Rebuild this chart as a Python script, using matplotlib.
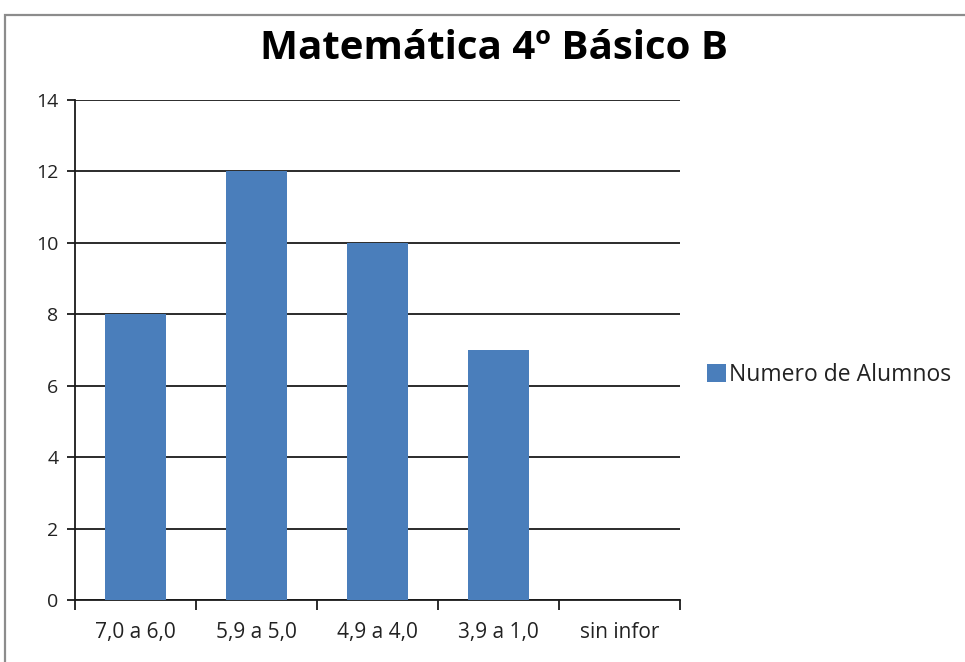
import matplotlib
matplotlib.use("Agg")
import matplotlib.pyplot as plt
from matplotlib.patches import Rectangle

plt.rcParams['font.family'] = ['Open Sans', 'DejaVu Sans']

categorias = ["7,0 a 6,0", "5,9 a 5,0", "4,9 a 4,0", "3,9 a 1,0", "sin infor"]
alumnos = [8, 12, 10, 7, 0]
serie = "Numero de Alumnos"
titulo = "Matemática 4º Básico B"

fig = plt.figure(figsize=(9.65, 6.62), dpi=100)
ax = fig.add_axes([0.0777, 0.0937, 0.627, 0.7553])

# marco gris del grafico
fig.patches.append(Rectangle((5 / 965, -0.1), 1.2, 1 - 15 / 662 + 0.1,
                             transform=fig.transFigure, fill=False,
                             edgecolor="#8c8c8c", linewidth=1.6))

x = list(range(len(categorias)))
ax.bar(x, alumnos, width=0.5, color="#4a7ebb", label=serie, zorder=3)

ax.set_xlim(-0.5, len(categorias) - 0.5)
ax.set_ylim(0, 14)
ax.set_yticks(range(0, 15, 2))
ax.yaxis.grid(True, color="#1a1a1a", linewidth=1.3, zorder=0)

# ticks del eje x en los limites de cada categoria
ax.set_xticks([i - 0.5 for i in range(len(categorias) + 1)])
ax.set_xticklabels([])
ax.set_xticks(x, minor=True)
ax.set_xticklabels(categorias, minor=True)
ax.tick_params(axis="x", which="major", length=7, width=1.3, color="#1a1a1a", direction="out")
ax.tick_params(axis="x", which="minor", length=0, pad=16, labelsize=15, labelcolor="#222222")
ax.tick_params(axis="y", length=6, width=1.3, color="#1a1a1a", pad=6, labelsize=14, labelcolor="#222222")

for s in ["top", "right"]:
    ax.spines[s].set_visible(False)
for s in ["left", "bottom"]:
    ax.spines[s].set_color("#1a1a1a")
    ax.spines[s].set_linewidth(1.3)

fig.text(0.512, 0.926, titulo, ha="center", va="center", fontsize=29, fontweight="bold")

ax.legend(loc="center left", bbox_to_anchor=(1.03, 0.45), frameon=False,
          handlelength=0.8, handleheight=0.8, handletextpad=0.15, fontsize=16.5,
          borderaxespad=0, labelcolor="#222222")

fig.savefig("out.png", dpi=100)
